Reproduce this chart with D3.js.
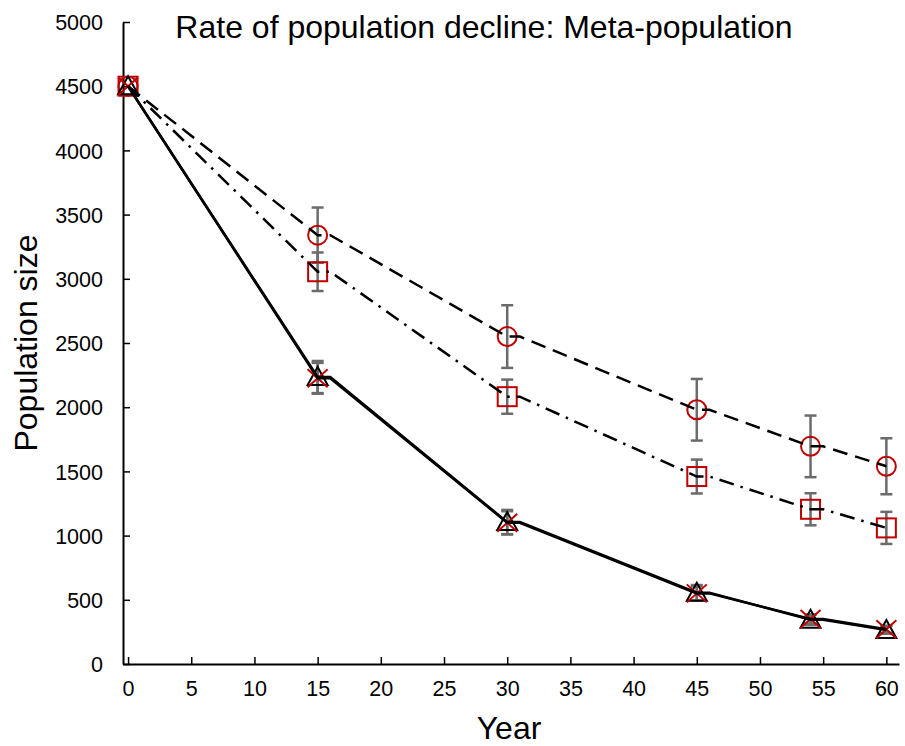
<!DOCTYPE html>
<html>
<head>
<meta charset="utf-8">
<script src="https://cdn.jsdelivr.net/npm/d3@7"></script>
<style>
  body { margin: 0; background: #fff; }
  svg { display: block; font-family: "Liberation Sans", Arial, sans-serif; }
</style>
</head>
<body>
<svg id="chart" width="905" height="746"></svg>
<script>
// Survey years and population estimates per scenario
const years = [0, 15, 30, 45, 54, 60];
const circleMean = [4500, 3340, 2550, 1980, 1695, 1540];
const circleErr  = [0, 215, 244, 240, 240, 218];
const squareMean = [4500, 3055, 2082, 1460, 1205, 1060];
const squareErr  = [0, 150, 133, 132, 125, 125];
const triangleMean = [4500, 2235, 1105, 555, 345, 265];
const triangleErr  = [0, 125, 95, 60, 40, 30];
const crossMean = [4500, 2225, 1100, 550, 350, 270];
const crossErr  = [0, 120, 90, 55, 35, 28];

// Projected trajectories (a short plateau follows each survey year)
const lineYears = [0, 15, 16, 30, 31, 45, 46, 54, 55, 60];
const circleLine   = [4500, 3340, 3340, 2550, 2550, 1980, 1980, 1695, 1695, 1540];
const squareLine   = [4500, 3055, 3055, 2082, 2082, 1460, 1460, 1205, 1205, 1060];
const triangleLine = [4500, 2235, 2235, 1105, 1105, 555, 555, 345, 345, 265];
const crossLine    = [4500, 2225, 2225, 1100, 1100, 550, 550, 350, 350, 270];

const xTicks = [0, 5, 10, 15, 20, 25, 30, 35, 40, 45, 50, 55, 60];
const yTicks = [0, 500, 1000, 1500, 2000, 2500, 3000, 3500, 4000, 4500, 5000];

const titleText = "Rate of population decline: Meta-population";
const xTitle = "Year";
const yTitle = "Population size";

const svg = d3.select("#chart");
const red = "#c00000";
const grey = "#6b6b6b";

const x = d3.scaleLinear().domain([-0.4, 61]).range([123, 899]);
const y = d3.scaleLinear().domain([0, 5000]).range([664, 22]);

// Axes (ticks point into the plot)
const xAxis = svg.append("g").attr("transform", `translate(0,${y(0)})`)
  .call(d3.axisBottom(x).tickValues(xTicks).tickFormat(d3.format("d"))
    .tickSizeInner(-7).tickSizeOuter(0).tickPadding(17));
const yAxis = svg.append("g").attr("transform", `translate(${x.range()[0]},0)`)
  .call(d3.axisLeft(y).tickValues(yTicks).tickFormat(d3.format("d"))
    .tickSizeInner(-7).tickSizeOuter(0).tickPadding(20));
[xAxis, yAxis].forEach(a => {
  a.select(".domain").attr("stroke", "#000").attr("stroke-width", 2);
  a.selectAll(".tick line").attr("stroke", "#000").attr("stroke-width", 1.5);
  a.selectAll(".tick text").attr("fill", "#000").attr("font-size", 21.5)
    .attr("font-family", "'Liberation Sans', Arial, sans-serif");
});
yAxis.selectAll(".tick text").attr("dy", "0.36em");

// Titles
svg.append("text").attr("x", 484).attr("y", 38).attr("text-anchor", "middle")
  .attr("font-size", 32).attr("fill", "#000").text(titleText);
svg.append("text").attr("x", 509).attr("y", 739).attr("text-anchor", "middle")
  .attr("font-size", 32).attr("fill", "#000").text(xTitle);
svg.append("text").attr("transform", `translate(37,343) rotate(-90)`).attr("text-anchor", "middle")
  .attr("font-size", 32).attr("fill", "#000").text(yTitle);

const series = [
  { mean: circleMean, err: circleErr, line: circleLine, dash: "15,8", shape: "circle" },
  { mean: squareMean, err: squareErr, line: squareLine, dash: "15,7,2.5,7", shape: "square" },
  { mean: triangleMean, err: triangleErr, line: triangleLine, dash: null, shape: "triangle" },
  { mean: crossMean, err: crossErr, line: crossLine, dash: null, shape: "cross" }
];

// Error bars
const capW = 6;
series.forEach(s => {
  const g = svg.append("g").attr("stroke", grey).attr("stroke-width", 2.5).attr("fill", "none");
  years.forEach((yr, i) => {
    if (!s.err[i]) return;
    const cx = x(yr), top = y(s.mean[i] + s.err[i]), bot = y(s.mean[i] - s.err[i]);
    g.append("line").attr("x1", cx).attr("x2", cx).attr("y1", top).attr("y2", bot);
    g.append("line").attr("x1", cx - capW).attr("x2", cx + capW).attr("y1", top).attr("y2", top);
    g.append("line").attr("x1", cx - capW).attr("x2", cx + capW).attr("y1", bot).attr("y2", bot);
  });
});

// Markers
series.forEach(s => {
  const g = svg.append("g").attr("fill", "none");
  years.forEach((yr, i) => {
    const cx = x(yr), cy = y(s.mean[i]);
    if (s.shape === "circle") {
      g.append("circle").attr("cx", cx).attr("cy", cy).attr("r", 9.5)
        .attr("stroke", red).attr("stroke-width", 2);
    } else if (s.shape === "square") {
      g.append("rect").attr("x", cx - 9.5).attr("y", cy - 9.5).attr("width", 19).attr("height", 19)
        .attr("stroke", red).attr("stroke-width", 2);
    } else if (s.shape === "triangle") {
      g.append("path").attr("d", `M${cx},${cy - 10}L${cx + 10},${cy + 8}L${cx - 10},${cy + 8}Z`)
        .attr("stroke", "#000").attr("stroke-width", 2);
    } else {
      g.append("path").attr("d", `M${cx - 10},${cy - 9}L${cx + 10},${cy + 9}M${cx + 10},${cy - 9}L${cx - 10},${cy + 9}`)
        .attr("stroke", red).attr("stroke-width", 2);
    }
  });
});

// Trajectory lines
const lineGen = vals => d3.line().x((d, i) => x(lineYears[i])).y(d => y(d))(vals);
series.forEach(s => {
  svg.append("path").attr("d", lineGen(s.line)).attr("fill", "none")
    .attr("stroke", "#000").attr("stroke-width", 2.5)
    .attr("stroke-dasharray", s.dash);
});
</script>
</body>
</html>
